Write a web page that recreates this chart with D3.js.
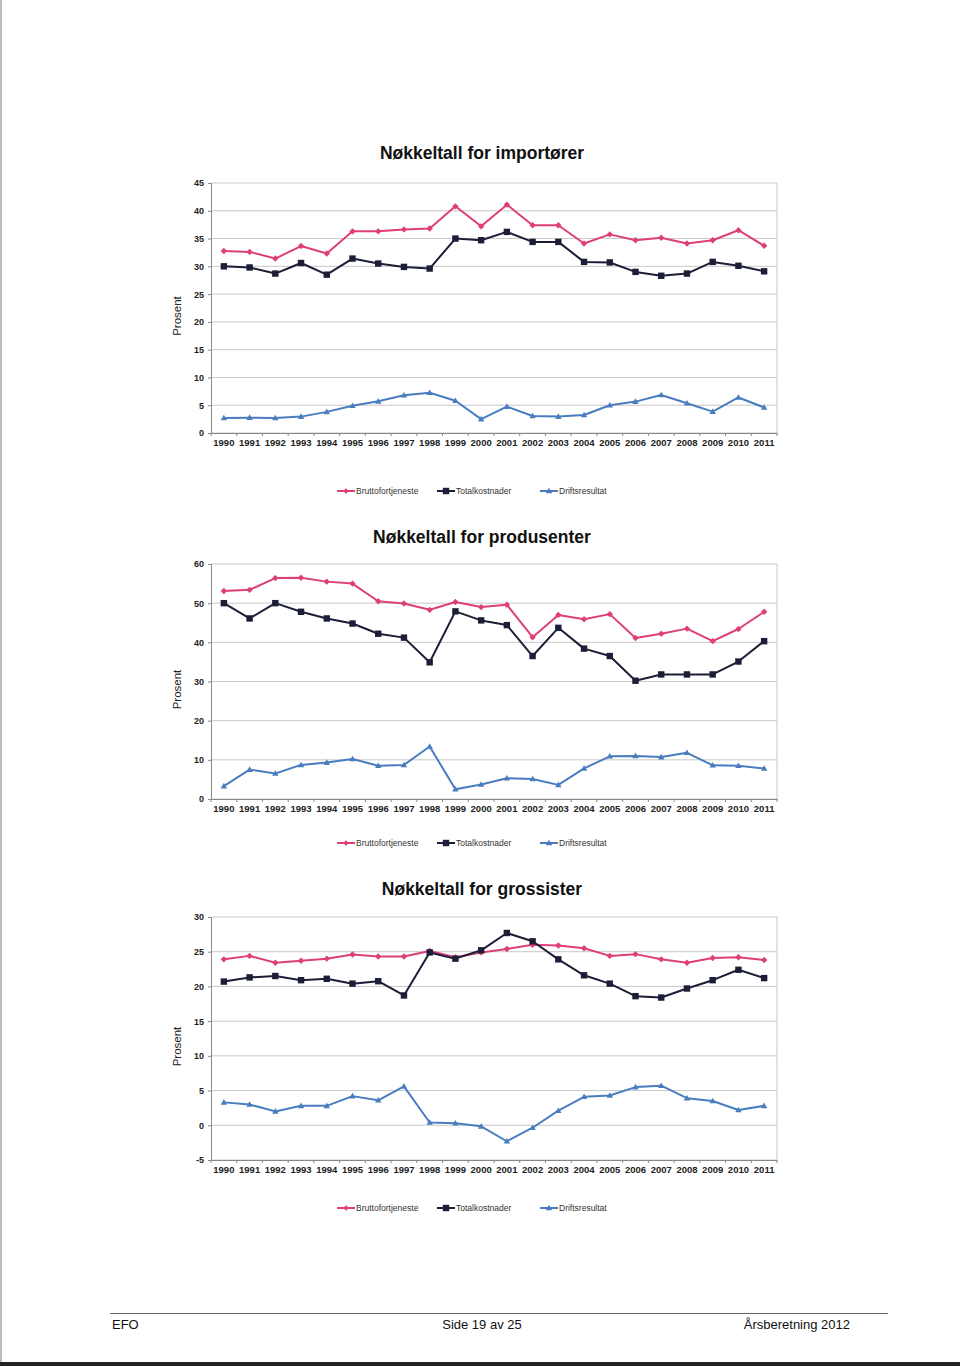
<!DOCTYPE html>
<html><head><meta charset="utf-8">
<script src="https://cdn.jsdelivr.net/npm/d3@7"></script>
<style>
body{margin:0;background:#fff;}
svg{display:block;}
</style></head>
<body>
<svg id="c" width="960" height="1366"></svg>
<script>
const years = ["1990","1991","1992","1993","1994","1995","1996","1997","1998","1999","2000","2001","2002","2003","2004","2005","2006","2007","2008","2009","2010","2011"];
const seriesNames = ["Bruttofortjeneste","Totalkostnader","Driftsresultat"];

// Importører
const impBrutto = [32.75,32.6,31.4,33.65,32.3,36.3,36.3,36.65,36.8,40.8,37.2,41.1,37.4,37.4,34.1,35.75,34.7,35.15,34.1,34.7,36.5,33.7];
const impTotal  = [30.0,29.8,28.7,30.6,28.5,31.4,30.5,29.9,29.6,35.0,34.7,36.2,34.4,34.4,30.8,30.7,29.0,28.3,28.7,30.8,30.1,29.1];
const impDrift  = [2.7,2.76,2.7,2.95,3.8,4.9,5.7,6.8,7.25,5.8,2.5,4.75,3.05,2.95,3.25,5.0,5.65,6.85,5.35,3.85,6.4,4.6];
const impTicks  = [0,5,10,15,20,25,30,35,40,45];

// Produsenter
const proBrutto = [53.1,53.4,56.4,56.5,55.5,55.0,50.5,49.9,48.3,50.3,49.0,49.6,41.3,47.0,45.9,47.2,41.1,42.2,43.5,40.3,43.4,47.8];
const proTotal  = [50.0,46.1,50.0,47.8,46.1,44.8,42.2,41.2,34.9,47.9,45.6,44.4,36.5,43.7,38.4,36.5,30.2,31.8,31.8,31.8,35.1,40.3];
const proDrift  = [3.3,7.5,6.5,8.7,9.3,10.2,8.5,8.7,13.4,2.5,3.7,5.3,5.1,3.6,7.8,10.9,11.0,10.7,11.8,8.6,8.5,7.8];
const proTicks  = [0,10,20,30,40,50,60];

// Grossister
const groBrutto = [23.9,24.4,23.4,23.7,24.0,24.6,24.3,24.3,25.1,24.2,24.9,25.4,26.0,25.9,25.5,24.4,24.65,23.9,23.4,24.1,24.2,23.8];
const groTotal  = [20.7,21.3,21.5,20.9,21.1,20.4,20.75,18.7,24.9,24.0,25.2,27.7,26.5,23.9,21.6,20.4,18.6,18.4,19.7,20.9,22.4,21.2];
const groDrift  = [3.3,3.0,2.0,2.8,2.8,4.2,3.6,5.6,0.4,0.3,-0.15,-2.3,-0.35,2.1,4.1,4.3,5.5,5.7,3.9,3.5,2.2,2.8];
const groTicks  = [-5,0,5,10,15,20,25,30];

const colors = ["#de3f78","#1b1e36","#4a7dbf"];
const font = "'Liberation Sans', Arial, sans-serif";
const svg = d3.select("#c");

// page edges
svg.append("rect").attr("x",0).attr("y",0).attr("width",2).attr("height",1366).attr("fill","#bdbdb5");
svg.append("rect").attr("x",0).attr("y",1362).attr("width",960).attr("height",4).attr("fill","#222");

const charts = [
  {title:"Nøkkeltall for importører", titleY:159, top:183, bottom:433, ticks:impTicks, data:[impBrutto,impTotal,impDrift], legendY:491},
  {title:"Nøkkeltall for produsenter", titleY:543, top:564, bottom:799, ticks:proTicks, data:[proBrutto,proTotal,proDrift], legendY:843},
  {title:"Nøkkeltall for grossister", titleY:895, top:917, bottom:1160, ticks:groTicks, data:[groBrutto,groTotal,groDrift], legendY:1208}
];
const left = 211, right = 777;

function marker(g, i, x, y, s){
  if(i===0){
    g.append("path").attr("d",`M${x},${y-s}L${x+s},${y}L${x},${y+s}L${x-s},${y}Z`).attr("fill",colors[0]);
  } else if(i===1){
    g.append("rect").attr("x",x-3.2).attr("y",y-3.2).attr("width",6.4).attr("height",6.4).attr("fill",colors[1]);
  } else {
    g.append("path").attr("d",`M${x},${y-3.3}L${x+3.2},${y+2.3}L${x-3.2},${y+2.3}Z`).attr("fill",colors[2]);
  }
}

charts.forEach(c=>{
  const g = svg.append("g");
  const x = d3.scaleBand().domain(years).range([left,right]);
  const y = d3.scaleLinear().domain(d3.extent(c.ticks)).range([c.bottom,c.top]);
  g.append("text").attr("x",482).attr("y",c.titleY).attr("text-anchor","middle")
    .attr("font-family",font).attr("font-weight","bold").attr("font-size",17.5).attr("fill","#111").text(c.title);
  // gridlines
  g.append("g").selectAll("line").data(c.ticks).join("line")
    .attr("x1",left).attr("x2",right).attr("y1",d=>y(d)).attr("y2",d=>y(d))
    .attr("stroke","#c8c8c8").attr("stroke-width",1);
  // right border
  g.append("line").attr("x1",right).attr("x2",right).attr("y1",c.top).attr("y2",c.bottom).attr("stroke","#c8c8c8");
  // y axis
  const ya = g.append("g").attr("transform",`translate(${left},0)`)
    .call(d3.axisLeft(y).tickValues(c.ticks).tickFormat(d=>String(d)).tickSize(3).tickPadding(4));
  ya.select(".domain").attr("stroke","#888");
  ya.selectAll(".tick line").attr("stroke","#888");
  ya.selectAll("text").attr("font-family",font).attr("font-weight","bold").attr("font-size",9).attr("fill","#222");
  // x axis
  const xa = g.append("g").attr("transform",`translate(0,${c.bottom})`)
    .call(d3.axisBottom(x).tickSize(0).tickPadding(6));
  xa.select(".domain").attr("stroke","#888");
  xa.selectAll("text").attr("font-family",font).attr("font-weight","bold").attr("font-size",9.5).attr("fill","#222");
  g.append("g").selectAll("line").data(years.concat(["end"])).join("line")
    .attr("x1",(d,i)=>left+i*x.step()).attr("x2",(d,i)=>left+i*x.step())
    .attr("y1",c.bottom).attr("y2",c.bottom+3).attr("stroke","#888");
  // Prosent label
  g.append("text").attr("transform",`translate(${181},${(c.top+c.bottom)/2+8}) rotate(-90)`)
    .attr("text-anchor","middle").attr("font-family",font).attr("font-size",11.5).attr("fill","#222").text("Prosent");
  // lines
  const line = d3.line().x((d,i)=>x(years[i])+x.bandwidth()/2).y(d=>y(d));
  c.data.forEach((arr,si)=>{
    g.append("path").attr("d",line(arr)).attr("fill","none").attr("stroke",colors[si]).attr("stroke-width",2).attr("stroke-linejoin","round");
    arr.forEach((v,i)=>marker(g,si,x(years[i])+x.bandwidth()/2,y(v),3.2));
  });
  // legend
  const lx = [337,437,540];
  seriesNames.forEach((n,si)=>{
    const ly = c.legendY;
    g.append("line").attr("x1",lx[si]).attr("x2",lx[si]+18).attr("y1",ly).attr("y2",ly).attr("stroke",colors[si]).attr("stroke-width",2);
    marker(g,si,lx[si]+9,ly,2.8);
    g.append("text").attr("x",lx[si]+19).attr("y",ly+3).attr("font-family",font).attr("font-size",8.5).attr("fill","#333").text(n);
  });
});

// footer
svg.append("line").attr("x1",110).attr("x2",888).attr("y1",1313.5).attr("y2",1313.5).attr("stroke","#666").attr("stroke-width",1);
const ft = [[112,"start","EFO"],[482,"middle","Side 19 av 25"],[850,"end","Årsberetning 2012"]];
ft.forEach(f=>svg.append("text").attr("x",f[0]).attr("y",1329).attr("text-anchor",f[1])
  .attr("font-family",font).attr("font-size",13).attr("fill","#111").text(f[2]));
</script>
</body></html>
